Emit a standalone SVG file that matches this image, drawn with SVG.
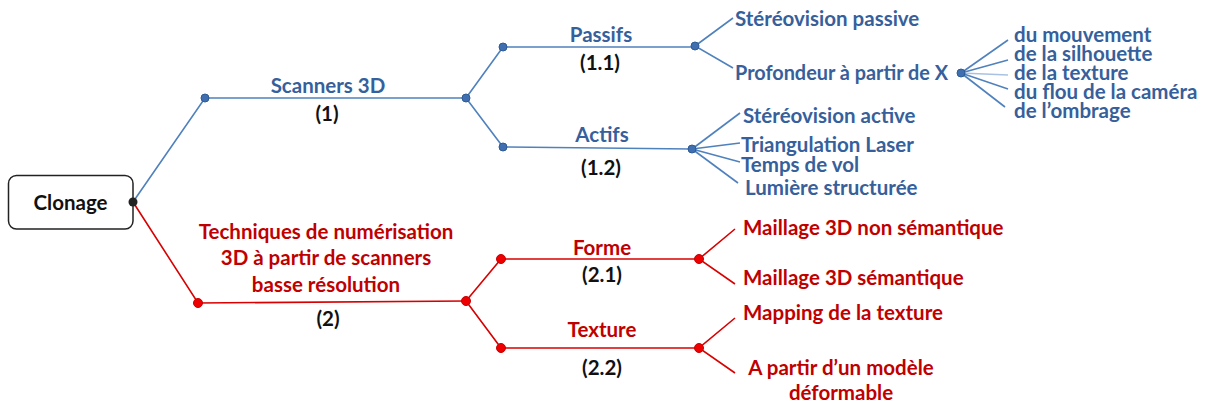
<svg xmlns="http://www.w3.org/2000/svg" width="1215" height="407" viewBox="0 0 1215 407">
  <style>
    text { font-family: Lato, "Liberation Sans", sans-serif; font-weight: bold; font-size: 20.5px; }
    .b { fill: #36609b; }
    .r { fill: #c00000; }
    .k { fill: #111111; }
    .mid { text-anchor: middle; }
    .lb { stroke: #4f81bd; stroke-width: 1.6; fill: none; }
    .lr { stroke: #d80000; stroke-width: 1.6; fill: none; }
    .lf { stroke: #a9c2e3; stroke-width: 1.6; fill: none; }
    .db { fill: #3f6fb0; stroke: #2e5a94; stroke-width: 1; }
    .dr { fill: #ee0000; stroke: #c80000; stroke-width: 1; }
  </style>

  <!-- connectors -->
  <g id="connectors">
    <!-- blue branch: scanners 3D -->
    <polyline class="lb" points="133,202 205,98 466,98"/>
    <polyline class="lb" points="503,47 466,98 503,147"/>
    <line class="lb" x1="503" y1="47" x2="695" y2="47"/>
    <line class="lb" x1="503" y1="147" x2="691" y2="149"/>
    <polyline class="lb" points="733,18 695,46 733,68"/>
    <line class="lb" x1="961" y1="73" x2="1008" y2="40"/>
    <line class="lb" x1="961" y1="73" x2="1008" y2="60"/>
    <line class="lf" x1="961" y1="73" x2="1008" y2="75"/>
    <line class="lb" x1="961" y1="73" x2="1008" y2="89"/>
    <line class="lb" x1="961" y1="73" x2="1005" y2="107"/>
    <line class="lb" x1="692" y1="149" x2="740" y2="113"/>
    <line class="lb" x1="692" y1="149" x2="740" y2="143"/>
    <line class="lb" x1="692" y1="149" x2="740" y2="162"/>
    <line class="lb" x1="692" y1="149" x2="738" y2="183"/>
    <!-- red branch: low resolution scanners -->
    <polyline class="lr" points="133,202 198,303 466,301"/>
    <polyline class="lr" points="501,259 466,301 501,348"/>
    <line class="lr" x1="501" y1="259" x2="699" y2="259"/>
    <line class="lr" x1="501" y1="348" x2="699" y2="348"/>
    <polyline class="lr" points="735,229 699,259 735,284"/>
    <polyline class="lr" points="735,318 699,348 735,373"/>
  </g>

  <!-- root -->
  <g id="clonage">
    <rect x="8.5" y="175.5" width="124.5" height="53.5" rx="8" fill="#ffffff" stroke="#222222" stroke-width="1.5"/>
    <text class="k mid" x="70.5" y="210">Clonage</text>
    <circle cx="133" cy="202" r="4.5" fill="#222222"/>
  </g>

  <!-- level 1 -->
  <g id="scanners-3d">
    <circle class="db" cx="205" cy="98" r="4"/>
    <circle class="db" cx="466" cy="98" r="4"/>
    <text class="b mid" x="328" y="93">Scanners 3D</text>
    <text class="k mid" x="327" y="121">(1)</text>
  </g>

  <g id="techniques">
    <circle class="dr" cx="198" cy="303" r="4.5"/>
    <circle class="dr" cx="466" cy="301" r="4.5"/>
    <text class="r mid" x="326" y="239">Techniques de numérisation</text>
    <text class="r mid" x="326" y="265">3D à partir de scanners</text>
    <text class="r mid" x="326" y="292">basse résolution</text>
    <text class="k mid" x="328" y="326">(2)</text>
  </g>

  <!-- level 2 -->
  <g id="passifs">
    <circle class="db" cx="503" cy="47" r="4"/>
    <circle class="db" cx="695" cy="46" r="4"/>
    <text class="b mid" x="601" y="42">Passifs</text>
    <text class="k mid" x="600" y="70">(1.1)</text>
  </g>

  <g id="actifs">
    <circle class="db" cx="503" cy="147" r="4"/>
    <circle class="db" cx="692" cy="149" r="4"/>
    <text class="b mid" x="602" y="142">Actifs</text>
    <text class="k mid" x="601" y="175">(1.2)</text>
  </g>

  <g id="forme">
    <circle class="dr" cx="501" cy="259" r="4.5"/>
    <circle class="dr" cx="699" cy="259" r="4.5"/>
    <text class="r mid" x="602" y="255">Forme</text>
    <text class="k mid" x="602" y="282">(2.1)</text>
  </g>

  <g id="texture">
    <circle class="dr" cx="501" cy="348" r="4.5"/>
    <circle class="dr" cx="699" cy="348" r="4.5"/>
    <text class="r mid" x="602" y="337">Texture</text>
    <text class="k mid" x="602" y="375">(2.2)</text>
  </g>

  <!-- leaves: passive methods -->
  <g id="stereo-passive">
    <text class="b" x="735" y="26">Stéréovision passive</text>
  </g>
  <g id="profondeur">
    <text class="b" x="735" y="80" textLength="213" lengthAdjust="spacingAndGlyphs">Profondeur à partir de X</text>
    <circle class="db" cx="961" cy="73" r="4"/>
  </g>
  <g id="profondeur-sources">
    <text class="b" x="1014" y="42">du mouvement</text>
    <text class="b" x="1014" y="61">de la silhouette</text>
    <text class="b" x="1014" y="80">de la texture</text>
    <text class="b" x="1014" y="99">du flou de la caméra</text>
    <text class="b" x="1014" y="118">de l’ombrage</text>
  </g>

  <!-- leaves: active methods -->
  <g id="actifs-methodes">
    <text class="b" x="743" y="123">Stéréovision active</text>
    <text class="b" x="741" y="152">Triangulation Laser</text>
    <text class="b" x="741" y="172">Temps de vol</text>
    <text class="b" x="745" y="195">Lumière structurée</text>
  </g>

  <!-- leaves: shape -->
  <g id="maillage-non-semantique">
    <text class="r" x="743" y="235">Maillage 3D non sémantique</text>
  </g>
  <g id="maillage-semantique">
    <text class="r" x="743" y="285">Maillage 3D sémantique</text>
  </g>

  <!-- leaves: texture -->
  <g id="mapping">
    <text class="r" x="743" y="320">Mapping de la texture</text>
  </g>
  <g id="modele-deformable">
    <text class="r mid" x="841" y="375">A partir d’un modèle</text>
    <text class="r mid" x="841" y="400">déformable</text>
  </g>
</svg>
